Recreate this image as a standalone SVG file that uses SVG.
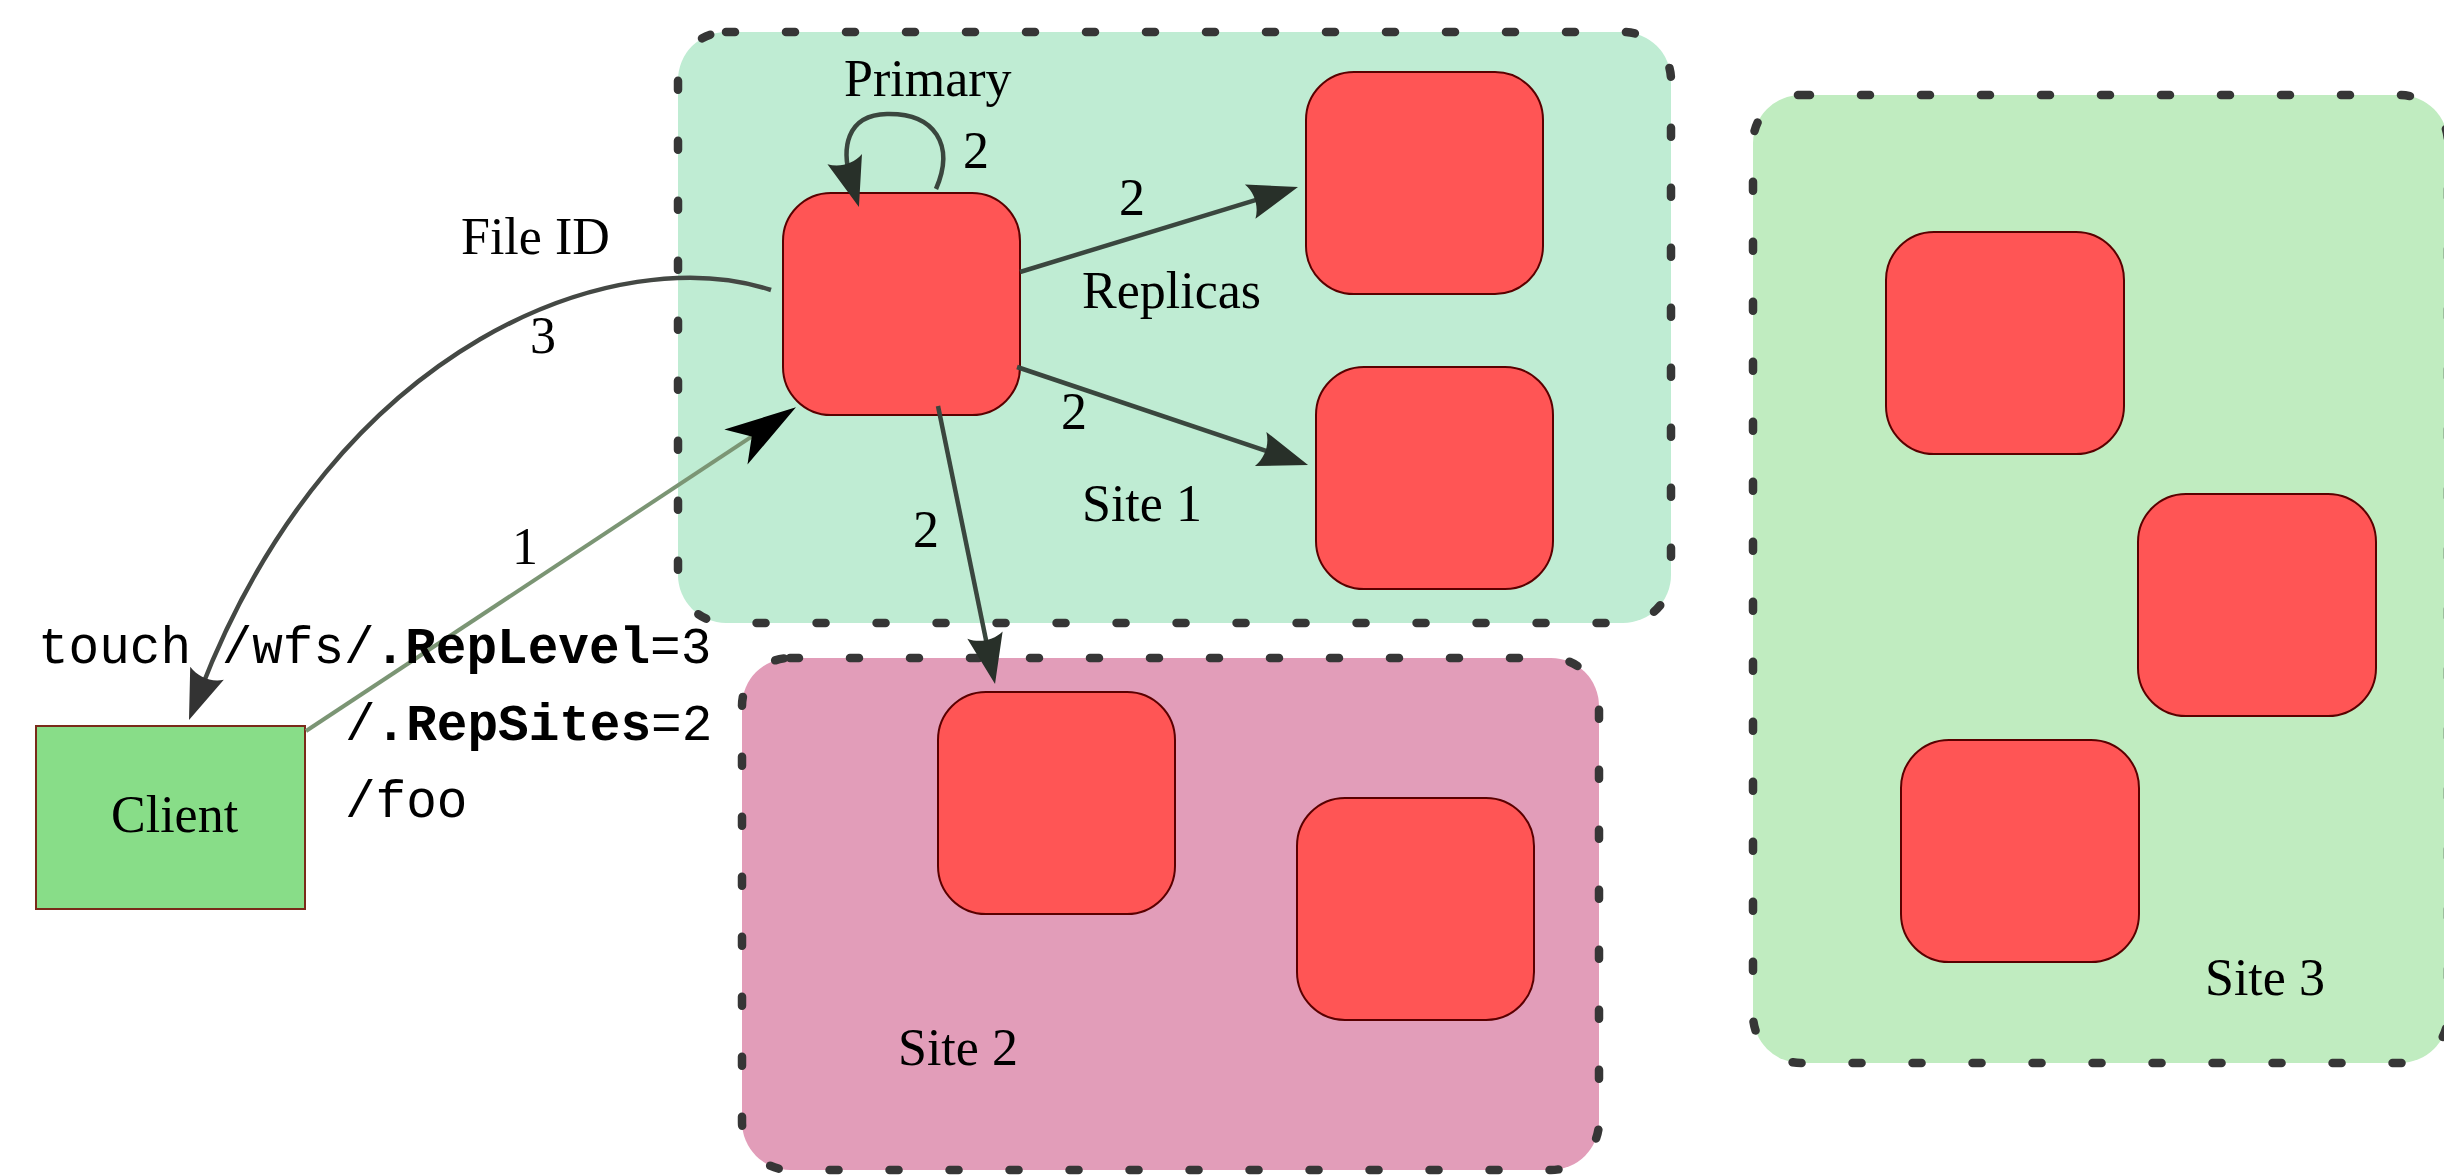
<svg xmlns="http://www.w3.org/2000/svg" width="2444" height="1175" viewBox="0 0 2444 1175">
<style>
.site{stroke:#363636;stroke-width:8.5;stroke-dasharray:9 51;stroke-linecap:round}
.s1{fill:#bfecd3}.s2{fill:#e29db9}.s3{fill:#c0ecc0}
.node{fill:#ff5555;stroke:#5a0000;stroke-width:2}
.client{fill:#88dd88;stroke:#7a2a1a;stroke-width:2}
.lbl{font-family:"Liberation Serif","DejaVu Serif",serif;font-size:52px;fill:#000}
.mono{font-family:"Liberation Mono","DejaVu Sans Mono",monospace;font-size:51px;fill:#000}
.dk{fill:none;stroke:#3a463e;stroke-width:4.5}
.cv{fill:none;stroke:#444844;stroke-width:4.5}
.gr{fill:none;stroke:#7b9574;stroke-width:4}
</style>
<defs>
<marker id="ahDark" markerUnits="userSpaceOnUse" viewBox="-55 -25 60 50" refX="-30" refY="0" markerWidth="60" markerHeight="50" orient="auto">
<path d="M0,0 L-50,-18 C-43,-7 -43,7 -50,18 Z" fill="#283029"/>
</marker>
<marker id="ahGray" markerUnits="userSpaceOnUse" viewBox="-55 -25 60 50" refX="-30" refY="0" markerWidth="60" markerHeight="50" orient="auto">
<path d="M0,0 L-50,-18 C-43,-7 -43,7 -50,18 Z" fill="#333333"/>
</marker>
<marker id="ahBlack" markerUnits="userSpaceOnUse" viewBox="-78 -26 82 52" refX="-40" refY="0" markerWidth="82" markerHeight="52" orient="auto">
<path d="M0,0 L-72,-21 L-53,0 L-72,21 Z" fill="#000"/>
</marker>
</defs>

<g id="site1"><rect class="site s1" x="678" y="32" width="993" height="591" rx="48"/></g>
<g id="site2"><rect class="site s2" x="742" y="658" width="857" height="512" rx="48"/></g>
<g id="site3"><rect class="site s3" x="1753" y="95" width="695" height="968" rx="48"/></g>

<g id="primary"><rect class="node" x="783" y="193" width="237" height="222" rx="48"/></g>
<g id="replica1"><rect class="node" x="1306" y="72" width="237" height="222" rx="48"/></g>
<g id="replica2"><rect class="node" x="1316" y="367" width="237" height="222" rx="48"/></g>
<g id="site2-node1"><rect class="node" x="938" y="692" width="237" height="222" rx="48"/></g>
<g id="site2-node2"><rect class="node" x="1297" y="798" width="237" height="222" rx="48"/></g>
<g id="site3-node1"><rect class="node" x="1886" y="232" width="238" height="222" rx="48"/></g>
<g id="site3-node2"><rect class="node" x="2138" y="494" width="238" height="222" rx="48"/></g>
<g id="site3-node3"><rect class="node" x="1901" y="740" width="238" height="222" rx="48"/></g>
<g id="client"><rect class="client" x="36" y="726" width="269" height="183"/><text class="lbl" x="111" y="832">Client</text></g>

<g id="connectors">
<path class="gr" d="M306,731 L762.6,429.4" marker-end="url(#ahBlack)"/>
<path class="cv" d="M771,290 C620,240 336.6,337.5 199.8,692" marker-end="url(#ahGray)"/>
<path class="dk" d="M936,189 C955,145 935,113 887,114 C845,115 842,150 850.4,178.3" marker-end="url(#ahDark)"/>
<path class="dk" d="M1020,272 L1269.3,195.8" marker-end="url(#ahDark)"/>
<path class="dk" d="M1017,367 L1279.6,455.4" marker-end="url(#ahDark)"/>
<path class="dk" d="M938,406 L989,654.6" marker-end="url(#ahDark)"/>
</g>

<g id="labels">
<text class="lbl" x="844" y="96">Primary</text>
<text class="lbl" x="461" y="254">File ID</text>
<text class="lbl" x="530" y="353">3</text>
<text class="lbl" x="512" y="564">1</text>
<text class="lbl" x="963" y="168">2</text>
<text class="lbl" x="1119" y="215">2</text>
<text class="lbl" x="1082" y="308">Replicas</text>
<text class="lbl" x="1061" y="429">2</text>
<text class="lbl" x="1082" y="521">Site 1</text>
<text class="lbl" x="913" y="547">2</text>
<text class="lbl" x="898" y="1065">Site 2</text>
<text class="lbl" x="2205" y="995">Site 3</text>
<text class="mono" x="38" y="663">touch /wfs/<tspan font-weight="bold">.RepLevel</tspan>=3</text>
<text class="mono" x="345" y="740">/<tspan font-weight="bold">.RepSites</tspan>=2</text>
<text class="mono" x="345" y="817">/foo</text>
</g>
</svg>
